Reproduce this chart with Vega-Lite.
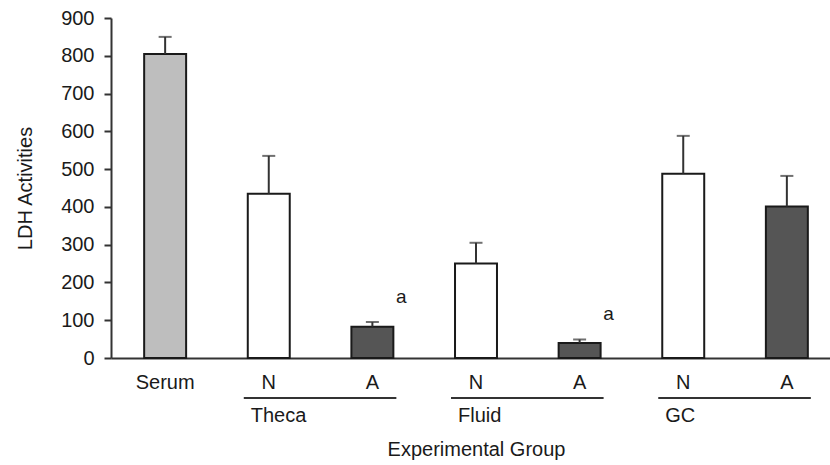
{
  "$schema": "https://vega.github.io/schema/vega-lite/v6.json",
  "width": 730,
  "height": 340,
  "autosize": {"type": "none"},
  "padding": {"left": 111, "top": 18, "right": 0, "bottom": 107},
  "background": "white",
  "config": {
    "font": "Liberation Sans",
    "view": {"stroke": null},
    "axis": {"labelFont": "Liberation Sans", "titleFont": "Liberation Sans", "labelColor": "#1a1a1a", "titleColor": "#1a1a1a", "domainColor": "#333", "tickColor": "#333", "domainWidth": 2, "tickWidth": 2, "labelFontSize": 20, "titleFontSize": 20, "titleFontWeight": "normal", "grid": false},
    "axisX": {"labelAngle": 0, "labelPadding": 14, "ticks": false, "titlePadding": 47},
    "axisY": {"tickSize": 7, "labelPadding": 10, "titlePadding": 25, "labelOverlap": false, "labelBound": false, "tickCount": 10}
  },
  "datasets": {
    "bars": [
      {"key": "Serum", "kind": "Serum", "value": 805, "err": 850, "sig": ""},
      {"key": "Theca N", "kind": "N", "value": 435, "err": 535, "sig": ""},
      {"key": "Theca A", "kind": "A", "value": 83, "err": 95, "sig": "a"},
      {"key": "Fluid N", "kind": "N", "value": 250, "err": 305, "sig": ""},
      {"key": "Fluid A", "kind": "A", "value": 40, "err": 49, "sig": "a"},
      {"key": "GC N", "kind": "N", "value": 488, "err": 588, "sig": ""},
      {"key": "GC A", "kind": "A", "value": 401, "err": 482, "sig": ""}
    ],
    "groups": [
      {"group": "Theca", "start": "Theca N", "end": "Theca A"},
      {"group": "Fluid", "start": "Fluid N", "end": "Fluid A"},
      {"group": "GC", "start": "GC N", "end": "GC A"}
    ]
  },
  "layer": [
    {
      "data": {"name": "bars"},
      "mark": {"type": "bar", "stroke": "#1a1a1a", "strokeWidth": 2},
      "encoding": {
        "x": {
          "field": "key", "type": "nominal",
          "scale": {"domain": ["Serum", "Theca N", "Theca A", "Fluid N", "Fluid A", "GC N", "GC A"], "paddingInner": 0.595, "paddingOuter": 0.32},
          "axis": {
            "title": "Experimental Group",
            "labelExpr": "datum.value == 'Serum' ? 'Serum' : slice(datum.value, -1)"
          }
        },
        "y": {
          "field": "value", "type": "quantitative",
          "scale": {"domain": [0, 900], "nice": false},
          "axis": {
            "title": "LDH Activities",
            "values": [0, 100, 200, 300, 400, 500, 600, 700, 800, 900]
          }
        },
        "fill": {
          "field": "kind", "type": "nominal",
          "scale": {"domain": ["Serum", "N", "A"], "range": ["#bebebe", "#ffffff", "#555555"]},
          "legend": null
        }
      }
    },
    {
      "data": {"name": "bars"},
      "mark": {"type": "rule", "stroke": "#333", "strokeWidth": 2},
      "encoding": {
        "x": {"field": "key", "type": "nominal"},
        "y": {"field": "value", "type": "quantitative"},
        "y2": {"field": "err"}
      }
    },
    {
      "data": {"name": "bars"},
      "mark": {"type": "tick", "color": "#333", "thickness": 2, "size": 13},
      "encoding": {
        "x": {"field": "key", "type": "nominal"},
        "y": {"field": "err", "type": "quantitative"}
      }
    },
    {
      "data": {"name": "bars"},
      "mark": {"type": "text", "fontSize": 19, "color": "#1a1a1a", "dx": 8, "dy": -25, "align": "center", "baseline": "middle"},
      "encoding": {
        "x": {"field": "key", "type": "nominal", "bandPosition": 1},
        "y": {"field": "err", "type": "quantitative"},
        "text": {"field": "sig"}
      }
    },
    {
      "data": {"name": "groups"},
      "mark": {"type": "rule", "stroke": "#333", "strokeWidth": 2, "yOffset": 40, "xOffset": -4, "x2Offset": 3},
      "encoding": {
        "x": {"field": "start", "type": "nominal", "bandPosition": 0},
        "x2": {"field": "end", "bandPosition": 1},
        "y": {"datum": 0, "type": "quantitative"}
      }
    },
    {
      "data": {"name": "groups"},
      "mark": {"type": "text", "fontSize": 20, "color": "#1a1a1a", "align": "left", "baseline": "middle", "dx": 3, "dy": 58},
      "encoding": {
        "x": {"field": "start", "type": "nominal", "bandPosition": 0},
        "y": {"datum": 0, "type": "quantitative"},
        "text": {"field": "group"}
      }
    }
  ]
}
